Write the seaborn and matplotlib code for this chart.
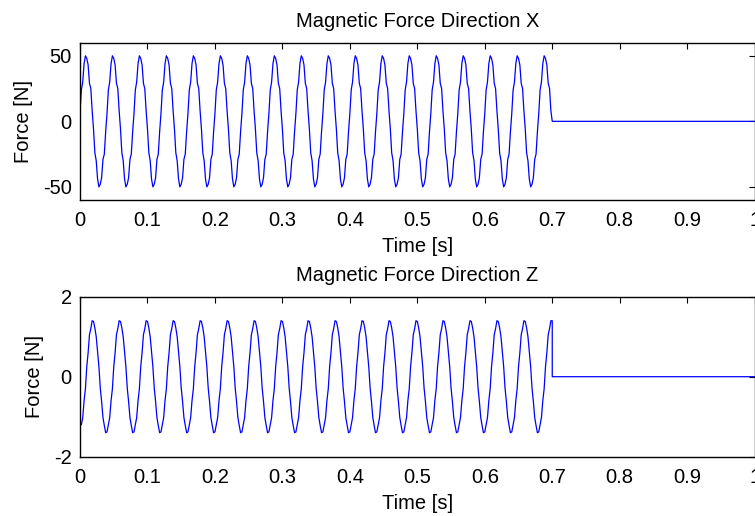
import numpy as np
import pandas as pd
import matplotlib
matplotlib.use("Agg")
import matplotlib.pyplot as plt
import seaborn as sns

# Time base: samples every 2 ms up to 0.698 s, then the switch-off at 0.7 s
t_samples = np.linspace(0, 0.698, 350)

# Force in X direction [N] (one row per 40 ms period)
force_x_samples = [
    8, 24, 30, 44, 50, 48, 43, 29, 25, 8, -6, -24, -30, -44, -50, -48, -43, -29, -25, -8,
    6, 24, 30, 44, 50, 48, 43, 29, 25, 8, -6, -24, -30, -44, -50, -48, -43, -29, -25, -8,
    6, 24, 30, 44, 50, 48, 43, 29, 25, 8, -6, -24, -30, -44, -50, -48, -43, -29, -25, -8,
    6, 24, 30, 44, 50, 48, 43, 29, 25, 8, -6, -24, -30, -44, -50, -48, -43, -29, -25, -8,
    6, 24, 30, 44, 50, 48, 43, 29, 25, 8, -6, -24, -30, -44, -50, -48, -43, -29, -25, -8,
    6, 24, 30, 44, 50, 48, 43, 29, 25, 8, -6, -24, -30, -44, -50, -48, -43, -29, -25, -8,
    6, 24, 30, 44, 50, 48, 43, 29, 25, 8, -6, -24, -30, -44, -50, -48, -43, -29, -25, -8,
    6, 24, 30, 44, 50, 48, 43, 29, 25, 8, -6, -24, -30, -44, -50, -48, -43, -29, -25, -8,
    6, 24, 30, 44, 50, 48, 43, 29, 25, 8, -6, -24, -30, -44, -50, -48, -43, -29, -25, -8,
    6, 24, 30, 44, 50, 48, 43, 29, 25, 8, -6, -24, -30, -44, -50, -48, -43, -29, -25, -8,
    6, 24, 30, 44, 50, 48, 43, 29, 25, 8, -6, -24, -30, -44, -50, -48, -43, -29, -25, -8,
    6, 24, 30, 44, 50, 48, 43, 29, 25, 8, -6, -24, -30, -44, -50, -48, -43, -29, -25, -8,
    6, 24, 30, 44, 50, 48, 43, 29, 25, 8, -6, -24, -30, -44, -50, -48, -43, -29, -25, -8,
    6, 24, 30, 44, 50, 48, 43, 29, 25, 8, -6, -24, -30, -44, -50, -48, -43, -29, -25, -8,
    6, 24, 30, 44, 50, 48, 43, 29, 25, 8, -6, -24, -30, -44, -50, -48, -43, -29, -25, -8,
    6, 24, 30, 44, 50, 48, 43, 29, 25, 8, -6, -24, -30, -44, -50, -48, -43, -29, -25, -8,
    6, 24, 30, 44, 50, 48, 43, 29, 25, 8, -6, -24, -30, -44, -50, -48, -43, -29, -25, -8,
    6, 24, 30, 44, 50, 48, 43, 29, 25, 8,
]

# Force in Z direction [N]
force_z_samples = [
    -1.20, -1.20, -1.02, -0.60, -0.30, 0.25, 0.60, 1.05, 1.20, 1.40, 1.38, 1.22, 1.00, 0.62, 0.25, -0.28, -0.62, -1.02, -1.22, -1.40,
    -1.38, -1.20, -1.02, -0.60, -0.30, 0.25, 0.60, 1.05, 1.20, 1.40, 1.38, 1.22, 1.00, 0.62, 0.25, -0.28, -0.62, -1.02, -1.22, -1.40,
    -1.38, -1.20, -1.02, -0.60, -0.30, 0.25, 0.60, 1.05, 1.20, 1.40, 1.38, 1.22, 1.00, 0.62, 0.25, -0.28, -0.62, -1.02, -1.22, -1.40,
    -1.38, -1.20, -1.02, -0.60, -0.30, 0.25, 0.60, 1.05, 1.20, 1.40, 1.38, 1.22, 1.00, 0.62, 0.25, -0.28, -0.62, -1.02, -1.22, -1.40,
    -1.38, -1.20, -1.02, -0.60, -0.30, 0.25, 0.60, 1.05, 1.20, 1.40, 1.38, 1.22, 1.00, 0.62, 0.25, -0.28, -0.62, -1.02, -1.22, -1.40,
    -1.38, -1.20, -1.02, -0.60, -0.30, 0.25, 0.60, 1.05, 1.20, 1.40, 1.38, 1.22, 1.00, 0.62, 0.25, -0.28, -0.62, -1.02, -1.22, -1.40,
    -1.38, -1.20, -1.02, -0.60, -0.30, 0.25, 0.60, 1.05, 1.20, 1.40, 1.38, 1.22, 1.00, 0.62, 0.25, -0.28, -0.62, -1.02, -1.22, -1.40,
    -1.38, -1.20, -1.02, -0.60, -0.30, 0.25, 0.60, 1.05, 1.20, 1.40, 1.38, 1.22, 1.00, 0.62, 0.25, -0.28, -0.62, -1.02, -1.22, -1.40,
    -1.38, -1.20, -1.02, -0.60, -0.30, 0.25, 0.60, 1.05, 1.20, 1.40, 1.38, 1.22, 1.00, 0.62, 0.25, -0.28, -0.62, -1.02, -1.22, -1.40,
    -1.38, -1.20, -1.02, -0.60, -0.30, 0.25, 0.60, 1.05, 1.20, 1.40, 1.38, 1.22, 1.00, 0.62, 0.25, -0.28, -0.62, -1.02, -1.22, -1.40,
    -1.38, -1.20, -1.02, -0.60, -0.30, 0.25, 0.60, 1.05, 1.20, 1.40, 1.38, 1.22, 1.00, 0.62, 0.25, -0.28, -0.62, -1.02, -1.22, -1.40,
    -1.38, -1.20, -1.02, -0.60, -0.30, 0.25, 0.60, 1.05, 1.20, 1.40, 1.38, 1.22, 1.00, 0.62, 0.25, -0.28, -0.62, -1.02, -1.22, -1.40,
    -1.38, -1.20, -1.02, -0.60, -0.30, 0.25, 0.60, 1.05, 1.20, 1.40, 1.38, 1.22, 1.00, 0.62, 0.25, -0.28, -0.62, -1.02, -1.22, -1.40,
    -1.38, -1.20, -1.02, -0.60, -0.30, 0.25, 0.60, 1.05, 1.20, 1.40, 1.38, 1.22, 1.00, 0.62, 0.25, -0.28, -0.62, -1.02, -1.22, -1.40,
    -1.38, -1.20, -1.02, -0.60, -0.30, 0.25, 0.60, 1.05, 1.20, 1.40, 1.38, 1.22, 1.00, 0.62, 0.25, -0.28, -0.62, -1.02, -1.22, -1.40,
    -1.38, -1.20, -1.02, -0.60, -0.30, 0.25, 0.60, 1.05, 1.20, 1.40, 1.38, 1.22, 1.00, 0.62, 0.25, -0.28, -0.62, -1.02, -1.22, -1.40,
    -1.38, -1.20, -1.02, -0.60, -0.30, 0.25, 0.60, 1.05, 1.20, 1.40, 1.38, 1.22, 1.00, 0.62, 0.25, -0.28, -0.62, -1.02, -1.22, -1.40,
    -1.38, -1.20, -1.02, -0.60, -0.30, 0.25, 0.60, 1.05, 1.20, 1.40,
]

# after switch-off (0.7 s) both forces stay at zero until 1 s
t_tail_x = [0.7, 1.0]
force_x_tail = [0, 0]
t_tail_z = [0.7, 0.7, 1.0]
force_z_tail = [1.40, 0, 0]

x_ticks = [0, 0.1, 0.2, 0.3, 0.4, 0.5, 0.6, 0.7, 0.8, 0.9, 1.0]
x_tick_labels = ["0", "0.1", "0.2", "0.3", "0.4", "0.5", "0.6", "0.7", "0.8", "0.9", "1"]
yx_ticks = [-50, 0, 50]
yz_ticks = [-2, 0, 2]

df_x = pd.DataFrame({"t": list(t_samples) + t_tail_x,
                     "F": force_x_samples + force_x_tail})
df_z = pd.DataFrame({"t": list(t_samples) + t_tail_z,
                     "F": force_z_samples + force_z_tail})

sns.set_style("white")
plt.rcParams["font.family"] = ["Liberation Sans", "DejaVu Sans"]
plt.rcParams["font.size"] = 14.5
plt.rcParams["axes.unicode_minus"] = False
plt.rcParams["text.color"] = "black"
plt.rcParams["axes.labelcolor"] = "black"

fig = plt.figure(figsize=(7.55, 5.16), dpi=100)
ax1 = fig.add_axes([0.106, 0.6124, 0.8935, 0.3049])
ax2 = fig.add_axes([0.106, 0.1149, 0.8935, 0.3101])

panels = [
    (ax1, df_x, "Magnetic Force Direction X", (-60, 60), yx_ticks),
    (ax2, df_z, "Magnetic Force Direction Z", (-2, 2), yz_ticks),
]
for ax, df, title, ylim, yticks in panels:
    sns.lineplot(data=df, x="t", y="F", ax=ax, color="blue", lw=0.9,
                 estimator=None, sort=False)
    ax.set_xlim(0, 1)
    ax.set_ylim(*ylim)
    ax.set_xticks(x_ticks)
    ax.set_xticklabels(x_tick_labels)
    ax.set_yticks(yticks)
    ax.tick_params(direction="in", length=4, width=0.8, top=True, right=True,
                   labelsize=14.5, colors="black")
    ax.tick_params(axis="x", pad=8)
    ax.tick_params(axis="y", pad=6)
    for s in ax.spines.values():
        s.set_color("black")
        s.set_linewidth(1.0)
    ax.set_title(title, fontsize=14.5, pad=11, color="black")
    ax.set_xlabel("Time [s]", fontsize=14.5, labelpad=5)
    ax.set_ylabel("Force [N]", fontsize=14.5, labelpad=7)

fig.savefig("out.png", dpi=100)
